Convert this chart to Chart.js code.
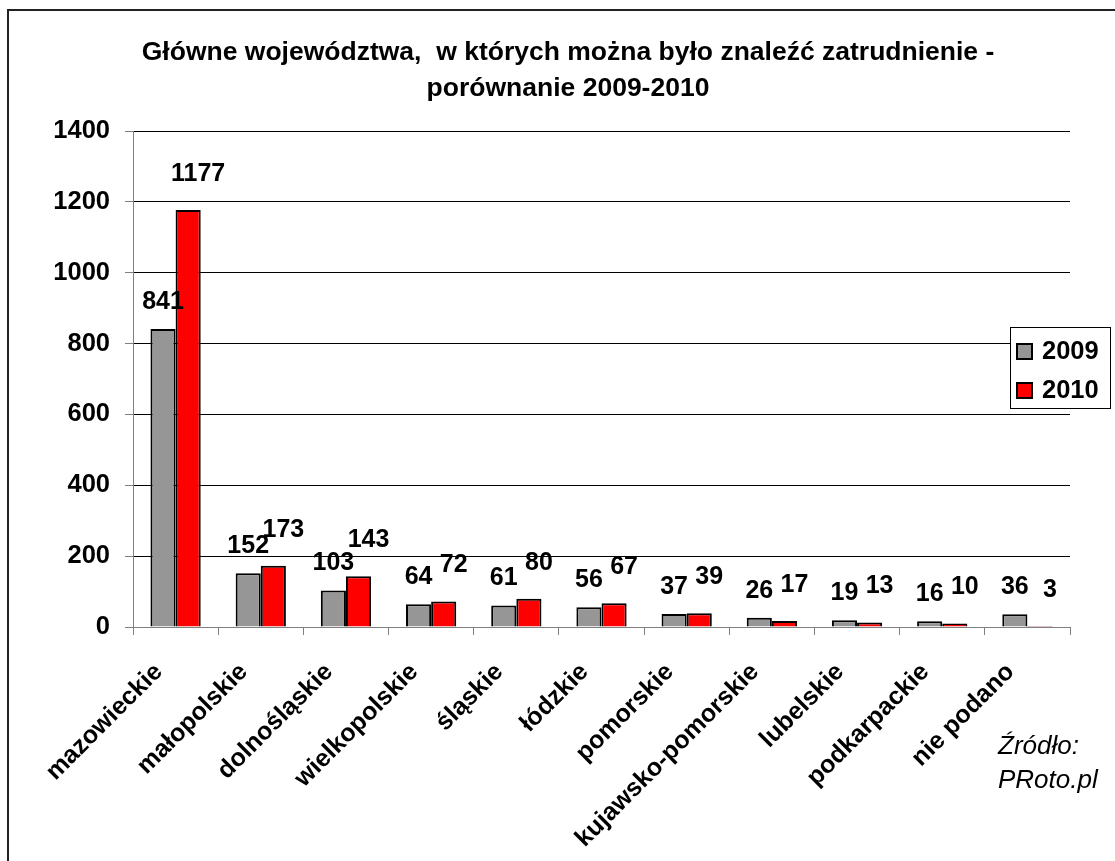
<!DOCTYPE html>
<html lang="pl">
<head>
    <meta charset="UTF-8">
    <title>Główne województwa 2009-2010</title>
    <script src="https://cdn.jsdelivr.net/npm/chart.js"></script>
    <style>
        body { margin: 0; background: #fff; }
        #wrap { position: absolute; left: 0; top: 0; width: 1115px; height: 861px; }
    </style>
</head>
<body>
    <div id="wrap"><canvas id="myChart" width="1115" height="861"></canvas></div>
    <script>
        // dane z wykresu
        const regions = ['mazowieckie', 'małopolskie', 'dolnośląskie', 'wielkopolskie', 'śląskie', 'łódzkie',
                         'pomorskie', 'kujawsko-pomorskie', 'lubelskie', 'podkarpackie', 'nie podano'];
        const values2009 = [841, 152, 103, 64, 61, 56, 37, 26, 19, 16, 36];
        const values2010 = [1177, 173, 143, 72, 80, 67, 39, 17, 13, 10, 3];
        const seriesNames = ['2009', '2010'];
        const yTicks = [0, 200, 400, 600, 800, 1000, 1200, 1400];

        const FONT = "'Liberation Sans', Arial, sans-serif";

        // ramka, tytuł, etykiety, legenda i źródło
        const decor = {
            id: 'decor',
            beforeDraw(chart) {
                const c = chart.ctx;
                c.save();
                c.fillStyle = '#fff';
                c.fillRect(0, 0, chart.width, chart.height);
                c.restore();
            },
            afterDatasetsDraw(chart) {
                const c = chart.ctx;
                c.save();
                c.font = 'bold 25px ' + FONT;
                c.fillStyle = '#000';
                c.textAlign = 'center';
                c.textBaseline = 'middle';
                const shift = [0, 10];
                const lift = [27, 36];
                chart.data.datasets.forEach((ds, i) => {
                    chart.getDatasetMeta(i).data.forEach((bar, j) => {
                        c.fillText(String(ds.data[j]), bar.x + shift[i], bar.y - lift[i]);
                    });
                });

                // podpisy osi X, obrócone o 45 stopni
                const xs = chart.scales.x;
                c.textAlign = 'right';
                regions.forEach((name, k) => {
                    c.save();
                    c.translate(xs.getPixelForTick(k) - 17, xs.top + 41);
                    c.rotate(-Math.PI / 4);
                    c.fillText(name, 0, 0);
                    c.restore();
                });
                c.restore();
            },
            afterDraw(chart) {
                const c = chart.ctx;
                c.save();
                // ramka obszaru wykresu
                c.strokeStyle = '#222';
                c.lineWidth = 2;
                c.strokeRect(8, 10, 1300, 1000);

                // tytuł
                c.fillStyle = '#000';
                c.font = 'bold 26.5px ' + FONT;
                c.textAlign = 'center';
                c.textBaseline = 'middle';
                c.fillText('Główne województwa,  w których można było znaleźć zatrudnienie -', 568, 53);
                c.fillText('porównanie 2009-2010', 568, 89);

                // legenda
                c.fillStyle = '#fff';
                c.fillRect(1010, 327, 101, 82);
                c.strokeStyle = '#000';
                c.lineWidth = 1;
                c.strokeRect(1010.5, 327.5, 100, 81);
                c.font = 'bold 25.5px ' + FONT;
                c.textAlign = 'left';
                chart.data.datasets.forEach((ds, i) => {
                    const y = 351 + i * 39;
                    c.fillStyle = ds.backgroundColor;
                    c.fillRect(1017, y - 7, 15, 15);
                    c.lineWidth = 2;
                    c.strokeRect(1017, y - 7, 15, 15);
                    c.fillStyle = '#000';
                    c.fillText(ds.label, 1042, y + 1);
                });

                // źródło
                c.font = 'italic 26px ' + FONT;
                c.textBaseline = 'alphabetic';
                c.fillText('Źródło:', 998, 754);
                c.fillText('PRoto.pl', 998, 788);
                c.restore();
            }
        };

        const ctx = document.getElementById('myChart').getContext('2d');
        const myChart = new Chart(ctx, {
            type: 'bar',
            data: {
                labels: regions,
                datasets: [{
                    label: seriesNames[0],
                    data: values2009,
                    backgroundColor: '#969696',
                    borderColor: '#000',
                    borderWidth: 2
                }, {
                    label: seriesNames[1],
                    data: values2010,
                    backgroundColor: '#ff0000',
                    borderColor: '#000',
                    borderWidth: 2
                }]
            },
            options: {
                responsive: false,
                animation: false,
                layout: { padding: { top: 131, right: 45, left: 0, bottom: 0 } },
                datasets: {
                    bar: { categoryPercentage: 0.59, barPercentage: 1.0 }
                },
                plugins: {
                    legend: { display: false },
                    title: { display: false },
                    tooltip: { enabled: false }
                },
                scales: {
                    x: {
                        afterFit: function(scale) { scale.height = 234; },
                        grid: {
                            offset: true,
                            drawOnChartArea: false,
                            tickLength: 8,
                            tickColor: '#808080'
                        },
                        border: { color: '#808080', width: 1 },
                        ticks: { display: false }
                    },
                    y: {
                        min: 0,
                        max: 1400,
                        afterFit: function(scale) { scale.width = 133; },
                        afterBuildTicks: function(scale) {
                            scale.ticks = yTicks.map(v => ({ value: v }));
                        },
                        grid: {
                            color: '#000',
                            lineWidth: 1,
                            tickLength: 8,
                            tickColor: '#808080'
                        },
                        border: { color: '#808080', width: 1 },
                        ticks: {
                            color: '#000',
                            padding: 15,
                            font: { family: FONT, size: 25.5, weight: 'bold' },
                            callback: function(value) { return String(value); }
                        }
                    }
                }
            },
            plugins: [decor]
        });
    </script>
</body>
</html>
